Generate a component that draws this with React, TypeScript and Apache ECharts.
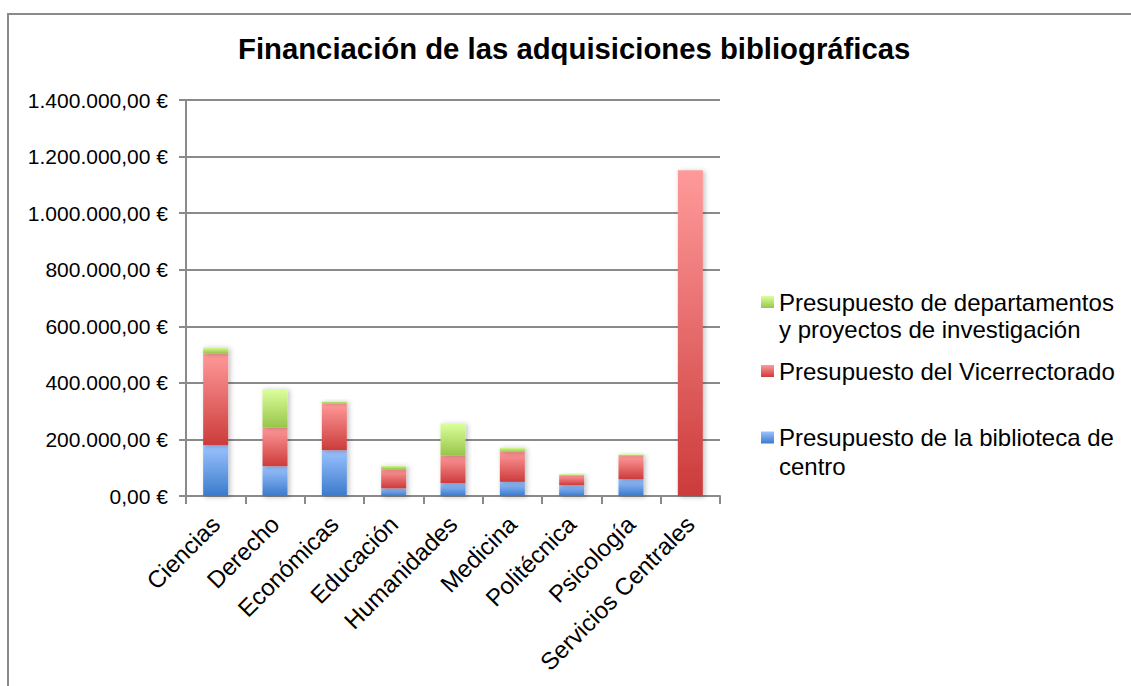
import React, { useEffect, useRef } from "react";
import * as echarts from "echarts";

const categories = [
  "Ciencias",
  "Derecho",
  "Económicas",
  "Educación",
  "Humanidades",
  "Medicina",
  "Politécnica",
  "Psicología",
  "Servicios Centrales",
];

const seriesNames = [
  "Presupuesto de la biblioteca de centro",
  "Presupuesto del Vicerrectorado",
  "Presupuesto de departamentos y proyectos de investigación",
];

const legendLabels = [
  "Presupuesto de la biblioteca de\ncentro",
  "Presupuesto del Vicerrectorado",
  "Presupuesto de departamentos\ny proyectos de investigación",
];

const bibliotecaCentro = [179000, 105000, 162000, 27000, 45000, 50000, 38000, 59000, 0];
const vicerrectorado = [326000, 138000, 166000, 68000, 99000, 106000, 35000, 82500, 1152000];
const departamentos = [21000, 135000, 7000, 13000, 113000, 16000, 4000, 6000, 0];

const yTicks = { min: 0, max: 1400000, interval: 200000 };

const FONT = "'Liberation Sans', Arial, sans-serif";

function formatEuro(v: number): string {
  const [intPart, dec] = v.toFixed(2).split(".");
  const withDots = intPart.replace(/\B(?=(\d{3})+(?!\d))/g, ".");
  return `${withDots},${dec} €`;
}

function grad(top: string, bottom: string) {
  return new echarts.graphic.LinearGradient(0, 0, 0, 1, [
    { offset: 0, color: top },
    { offset: 1, color: bottom },
  ]);
}

const colors = [
  grad("#9cc3ff", "#3a7acb"),
  grad("#ff9a9a", "#cc3b3b"),
  grad("#dcff9c", "#98c64a"),
];

export default function App() {
  const ref = useRef<HTMLDivElement>(null);

  useEffect(() => {
    if (!ref.current) return;
    const chart = echarts.init(ref.current, undefined, { renderer: "svg" });
    const values = [bibliotecaCentro, vicerrectorado, departamentos];

    const labelMap: Record<string, string> = {};
    seriesNames.forEach((n, i) => (labelMap[n] = legendLabels[i]));

    const legendBase = {
      orient: "vertical",
      left: 761,
      itemWidth: 13,
      itemHeight: 12,
      itemGap: 0,
      padding: 0,
      icon: "rect",
      selectedMode: false,
    };

    // multi-line labels: a leading empty line keeps the icon beside the first line
    const multiLine = (name: string) => "\n" + labelMap[name];

    chart.setOption({
      animation: false,
      backgroundColor: "#ffffff",
      title: {
        text: "Financiación de las adquisiciones bibliográficas",
        left: 238,
        top: 34,
        padding: 0,
        textStyle: { fontFamily: FONT, fontSize: 29.3, fontWeight: "bold", color: "#000" },
      },
      graphic: [
        {
          type: "rect",
          shape: { x: 8, y: 14, width: 1300, height: 900 },
          style: { fill: "none", stroke: "#8a8a8a", lineWidth: 2 },
          silent: true,
          z: -10,
        },
      ],
      legend: [
        {
          ...legendBase,
          data: [seriesNames[2]],
          top: 261.5,
          formatter: multiLine,
          textStyle: { fontFamily: FONT, fontSize: 24, lineHeight: 27, color: "#000" },
        },
        {
          ...legendBase,
          data: [seriesNames[1]],
          top: 357,
          formatter: (name: string) => labelMap[name],
          textStyle: { fontFamily: FONT, fontSize: 24, lineHeight: 28, color: "#000" },
        },
        {
          ...legendBase,
          data: [seriesNames[0]],
          top: 394,
          formatter: multiLine,
          textStyle: { fontFamily: FONT, fontSize: 24, lineHeight: 29, color: "#000" },
        },
      ],
      grid: { left: 186, right: 411, top: 100, bottom: 190, containLabel: false },
      xAxis: {
        type: "category",
        data: categories,
        axisLine: { lineStyle: { color: "#8a8a8a", width: 2 } },
        axisTick: { show: true, length: 8, lineStyle: { color: "#8a8a8a", width: 2 } },
        axisLabel: {
          rotate: 45,
          interval: 0,
          margin: 24,
          fontFamily: FONT,
          fontSize: 24,
          color: "#000",
        },
      },
      yAxis: {
        type: "value",
        min: yTicks.min,
        max: yTicks.max,
        interval: yTicks.interval,
        axisLine: { show: true, lineStyle: { color: "#8a8a8a", width: 2 } },
        axisTick: { show: true, length: 7, lineStyle: { color: "#8a8a8a", width: 2 } },
        splitLine: { lineStyle: { color: "#8a8a8a", width: 2 } },
        axisLabel: {
          margin: 18,
          fontFamily: FONT,
          fontSize: 21,
          color: "#000",
          formatter: (v: number) => formatEuro(v),
        },
      },
      series: seriesNames.map((name, i) => ({
        name,
        type: "bar",
        stack: "total",
        barWidth: 25,
        data: values[i],
        itemStyle: {
          color: colors[i],
          shadowColor: "rgba(0,0,0,0.25)",
          shadowBlur: 5,
          shadowOffsetX: 2,
          shadowOffsetY: 1,
        },
        emphasis: { disabled: true },
      })),
    });

    return () => chart.dispose();
  }, []);

  return (
    <div
      ref={ref}
      style={{ position: "absolute", left: 0, top: 0, width: 1131, height: 686 }}
    />
  );
}
